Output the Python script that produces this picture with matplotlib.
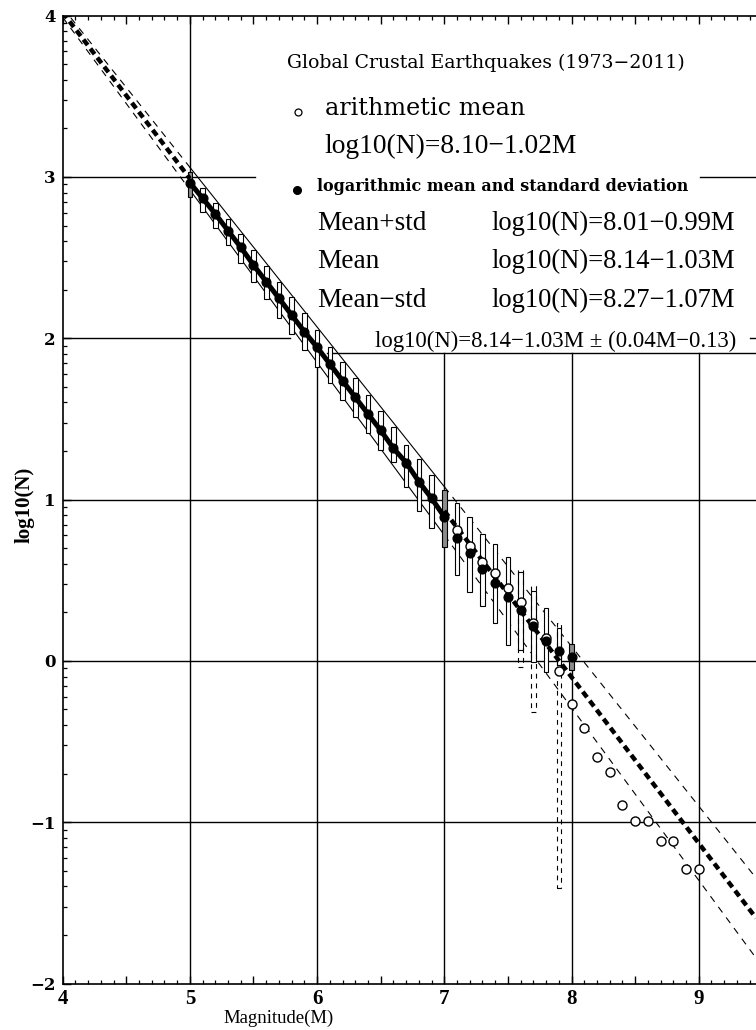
import numpy as np
import matplotlib
matplotlib.use("Agg")
import matplotlib.pyplot as plt
from matplotlib.patches import Rectangle
from matplotlib.ticker import MultipleLocator, FixedLocator, FuncFormatter, NullFormatter

plt.rcParams['lines.scale_dashes'] = False
plt.rcParams['font.family'] = ['DejaVu Serif']

# ---------------- data ----------------
mag_bins = [5.0, 5.1, 5.2, 5.3, 5.4, 5.5, 5.6, 5.7, 5.8, 5.9, 6.0, 6.1, 6.2, 6.3, 6.4,
            6.5, 6.6, 6.7, 6.8, 6.9, 7.0, 7.1, 7.2, 7.3, 7.4, 7.5, 7.6, 7.7, 7.8, 7.9, 8.0]
log_mean = [2.965, 2.868, 2.771, 2.667, 2.564, 2.454, 2.351, 2.248, 2.144, 2.041, 1.944,
            1.841, 1.737, 1.634, 1.531, 1.429, 1.318, 1.229, 1.111, 1.008, 0.893,
            0.760, 0.667, 0.568, 0.485, 0.398, 0.316, 0.218, 0.125, 0.060, 0.024]
box_top = [3.033, 2.930, 2.841, 2.738, 2.647, 2.547, 2.448, 2.351, 2.258, 2.155, 2.051,
           1.948, 1.855, 1.752, 1.648, 1.550, 1.452, 1.339, 1.250, 1.152, 1.060,
           0.977, 0.894, 0.787, 0.725, 0.642, 0.550, 0.433, 0.326, 0.202, 0.103]
box_bot = [2.878, 2.785, 2.682, 2.578, 2.465, 2.351, 2.242, 2.124, 2.027, 1.928, 1.824,
           1.721, 1.617, 1.514, 1.411, 1.310, 1.235, 1.080, 0.931, 0.822, 0.708,
           0.533, 0.425, 0.342, 0.233, 0.099, 0.066, -0.005, -0.071, -0.025, -0.056]

arith_mag = [7.1, 7.2, 7.3, 7.4, 7.5, 7.6, 7.7, 7.8, 7.9, 8.0,
             8.1, 8.2, 8.3, 8.4, 8.5, 8.6, 8.7, 8.8, 8.9, 9.0]
arith_mean = [0.812, 0.713, 0.615, 0.543, 0.450, 0.365, 0.237, 0.140, -0.060, -0.269,
              -0.418, -0.594, -0.691, -0.893, -0.993, -0.993, -1.117, -1.117, -1.292, -1.292]

dash_mag = [7.6, 7.7, 7.9]
dash_top = [0.563, 0.467, 0.233]
dash_bot = [-0.040, -0.315, -1.410]

fit_a, fit_b = 8.14, 1.03      # log10(N) = a - b M
std_c, std_d = 0.04, 0.13      # std = c M - d
fit_lo, fit_hi = 5.0, 7.0
m_min, m_max = 4.0, 9.45

title = "Global Crustal Earthquakes (1973\u22122011)"
lbl_arith = "arithmetic mean"
eq_arith = "log10(N)=8.10\u22121.02M"
lbl_log = "logarithmic mean and standard deviation"
row_names = ["Mean+std", "Mean", "Mean\u2212std"]
row_eqs = ["log10(N)=8.01\u22120.99M", "log10(N)=8.14\u22121.03M", "log10(N)=8.27\u22121.07M"]
eq_band = "log10(N)=8.14\u22121.03M \u00b1 (0.04M\u22120.13)"

# ---------------- figure ----------------
fig = plt.figure(figsize=(7.56, 10.30), dpi=100)
ax = fig.add_axes([0.0829, 0.0451, 1 - 0.0829, 0.9397])
ax.set_xlim(m_min, m_max)
ax.set_ylim(-2, 4)

def fit(m):
    return fit_a - fit_b * np.asarray(m)

def std(m):
    return std_c * np.asarray(m) - std_d

# grid segments (partly hidden behind the legend block)
gkw = dict(color='black', lw=1.0, zorder=0.5)
ax.plot([5, 5], [-2, 4], **gkw)
for gx in [6, 7, 8, 9]:
    ax.plot([gx, gx], [-2, 1.907], **gkw)
for gy in [-1, 0, 1]:
    ax.plot([m_min, m_max], [gy, gy], **gkw)
ax.plot([m_min, 5.787], [2, 2], **gkw)
ax.plot([9.405, m_max], [2, 2], **gkw)
ax.plot([m_min, 5.512], [3, 3], **gkw)
ax.plot([9.008, m_max], [3, 3], **gkw)
ax.plot([6.077, m_max], [1.907, 1.907], **gkw)

# envelope lines
thin_dash = (5.0, 4.5)
for seg, ls in [((m_min, fit_lo), 'dash'), ((fit_lo, fit_hi), 'solid'), ((fit_hi, m_max), 'dash')]:
    mm = np.linspace(seg[0], seg[1], 50)
    for sgn in (+1, -1):
        yy = fit(mm) + sgn * std(mm)
        if ls == 'dash':
            ax.plot(mm, yy, color='black', lw=0.8, dashes=thin_dash, zorder=2)
        else:
            ax.plot(mm, yy, color='black', lw=0.8, zorder=2)

# mean fit line: thick dashed outside the fit range
mm = np.linspace(m_min, fit_lo, 50)
ax.plot(mm, fit(mm), color='black', lw=3.2, dashes=(5.0, 3.2), zorder=4)
mm = np.linspace(fit_hi, m_max, 100)
ax.plot(mm, fit(mm), color='black', lw=3.2, dashes=(5.0, 3.2), zorder=4)

# boxes
bw = 0.036
for m, t, b in zip(mag_bins, box_top, box_bot):
    face = '0.55' if m in (5.0, 7.0, 8.0) else 'white'
    ax.add_patch(Rectangle((m - bw / 2, b), bw, t - b, facecolor=face,
                           edgecolor='black', lw=0.8, zorder=3))
for m, t, b in zip(dash_mag, dash_top, dash_bot):
    ax.add_patch(Rectangle((m - bw / 2, b), bw, t - b, facecolor='none',
                           edgecolor='black', lw=0.8, linestyle=(0, (3.5, 3.5)), zorder=3.2))

# thick line connecting log means in fit range
sel = [i for i, m in enumerate(mag_bins) if m <= fit_hi + 1e-9]
ax.plot([mag_bins[i] for i in sel], [log_mean[i] for i in sel], color='black', lw=3.6, zorder=4.5)

# points
ax.plot(arith_mag, arith_mean, 'o', ms=6.5, mfc='white', mec='black', mew=1.0, zorder=5)
ax.plot(mag_bins, log_mean, 'o', ms=6.3, color='black', zorder=6)

# ---------------- legend block ----------------
ax.text(5.763, 3.674, title, fontsize=13.6, ha='left', va='baseline', zorder=7)
ax.plot([5.848], [3.403], 'o', ms=5, mfc='white', mec='black', mew=0.9, zorder=7)
ax.text(6.061, 3.384, lbl_arith, fontsize=17.2, ha='left', va='baseline', zorder=7)
ax.text(6.061, 3.147, eq_arith, fontsize=19.8, family='Liberation Serif', ha='left', va='baseline', zorder=7)
ax.plot([5.840], [2.920], 'o', ms=5.5, color='black', zorder=7)
ax.text(5.998, 2.915, lbl_log, fontsize=11.5, fontweight='bold', ha='left', va='baseline', zorder=7)
for i, (nm, eq) in enumerate(zip(row_names, row_eqs)):
    yb = 2.672 - i * 0.238
    ax.text(5.998, yb, nm, fontsize=19.6, family='Liberation Serif', ha='left', va='baseline', zorder=7)
    ax.text(7.373, yb, eq, fontsize=19.2, family='Liberation Serif', ha='left', va='baseline', zorder=7)
ax.text(6.454, 1.948, eq_band, fontsize=16.4, family='Liberation Serif', ha='left', va='baseline', zorder=7)

# ---------------- axes styling ----------------
ax.spines['right'].set_visible(False)
for s in ['left', 'bottom', 'top']:
    ax.spines[s].set_linewidth(1.2)

ax.xaxis.set_major_locator(MultipleLocator(0.5))
ax.xaxis.set_minor_locator(MultipleLocator(0.1))
ax.xaxis.set_major_formatter(FuncFormatter(lambda v, p: f"{int(round(v))}" if abs(v - round(v)) < 1e-6 else ""))
ax.tick_params(axis='x', which='major', direction='in', length=6, width=1.0, top=True, bottom=True, pad=4)
ax.tick_params(axis='x', which='minor', direction='in', length=3, width=0.9, top=True, bottom=True)

yticks = [-2, -1, 0, 1, 2, 3, 4]
ax.yaxis.set_major_locator(FixedLocator(yticks))
minor_y = [n + np.log10(k) for n in range(-2, 4) for k in range(2, 10)]
ax.yaxis.set_minor_locator(FixedLocator(minor_y))
ax.yaxis.set_minor_formatter(NullFormatter())
ax.yaxis.set_major_formatter(FuncFormatter(lambda v, p: f"{int(v)}".replace('-', '\u2212')))
ax.tick_params(axis='y', which='major', direction='in', length=6, width=1.0, left=True, right=False, pad=5)
ax.tick_params(axis='y', which='minor', direction='in', length=3, width=0.9, left=True, right=False)

for lab in ax.get_xticklabels():
    lab.set_fontfamily('Liberation Serif')
    lab.set_fontweight('bold')
    lab.set_fontsize(15)
for lab in ax.get_yticklabels():
    lab.set_fontfamily('DejaVu Serif')
    lab.set_fontweight('bold')
    lab.set_fontsize(12)

fig.text(0.369, 0.0117, "Magnitude(M)", fontsize=13.5, family='Liberation Serif',
         ha='center', va='center')
fig.text(0.033, 0.510, "log10(N)", fontsize=15, family='Liberation Serif',
         fontweight='bold', rotation=90, ha='center', va='center')

fig.savefig("out.png", dpi=100)
